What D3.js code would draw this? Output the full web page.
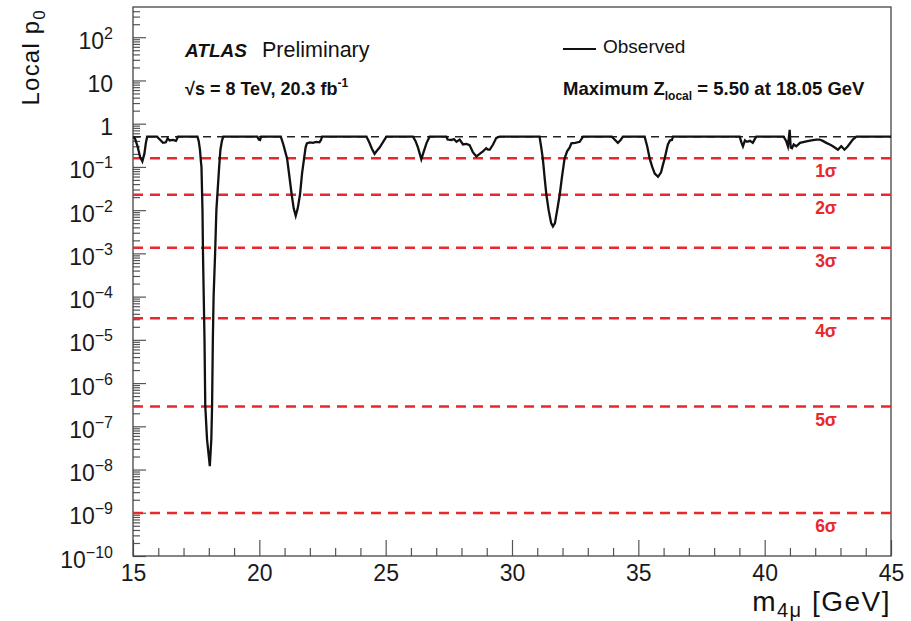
<!DOCTYPE html>
<html>
<head>
<meta charset="utf-8">
<script src="https://cdn.jsdelivr.net/npm/d3@7"></script>
<style>
  body { margin: 0; background: #fff; }
  text { font-family: "Liberation Sans", Arial, Helvetica, sans-serif; }
</style>
</head>
<body>
<svg id="chart" width="911" height="621"></svg>
<script>
// observed local p0 scan
const massValues = [
  15.00, 15.08, 15.18, 15.28, 15.37, 15.45, 15.51, 15.56, 15.95, 16.08, 16.19, 16.30, 16.37, 16.45, 16.58, 16.70, 16.78,
  17.55, 17.60, 17.65, 17.69, 17.71, 17.75, 17.77, 17.80, 17.83, 17.86, 17.93, 18.04, 18.10, 18.13, 18.16, 18.19, 18.25,
  18.30, 18.41, 18.46, 18.52, 18.57, 19.92, 19.98, 20.03, 20.07,
  20.85, 20.95, 21.03, 21.10, 21.19, 21.28, 21.36, 21.44, 21.52, 21.61, 21.69, 21.77, 21.83, 21.88, 22.00, 22.12, 22.25,
  22.38, 22.44, 22.48,
  24.24, 24.35, 24.46, 24.56, 24.66, 24.76, 24.90, 25.03,
  26.08, 26.18, 26.28, 26.35, 26.41, 26.50, 26.62, 26.74,
  27.40, 27.45, 27.60, 27.70, 27.80, 27.93, 28.06, 28.20, 28.32, 28.45, 28.59, 28.72, 28.85, 28.98, 29.05, 29.12, 29.25,
  29.38, 29.51,
  31.09, 31.15, 31.22, 31.30, 31.36, 31.45, 31.55, 31.62, 31.70, 31.80, 31.89, 31.98, 32.08, 32.18, 32.28, 32.35, 32.50,
  32.68, 32.81,
  33.95, 34.08, 34.19, 34.30, 34.39,
  35.25, 35.35, 35.45, 35.55, 35.65, 35.78, 35.90, 35.97, 36.04, 36.12, 36.17, 36.25, 36.33, 36.37,
  39.01, 39.08, 39.14, 39.22, 39.30, 39.42, 39.53, 39.62, 39.67,
  40.75, 40.85, 40.92, 40.99, 41.03, 41.08, 41.15, 41.25, 41.40, 41.65, 41.85, 42.04, 42.17, 42.30, 42.44, 42.58, 42.70,
  42.90, 43.03, 43.16, 43.29, 43.49, 43.63, 45.00
];
const p0Values = [
  0.5, 0.45, 0.3, 0.17, 0.135, 0.2, 0.36, 0.5, 0.5, 0.42, 0.36, 0.37, 0.46, 0.41, 0.42, 0.40, 0.5,
  0.5, 0.4, 0.25, 0.13, 0.1, 0.01, 1e-3, 1e-4, 1e-5, 3e-7, 5e-8, 1.2e-8, 5e-8, 3e-7, 1e-5, 1e-4, 1e-3,
  1e-2, 0.1, 0.25, 0.4, 0.5, 0.5, 0.43, 0.42, 0.5,
  0.5, 0.33, 0.22, 0.155, 0.06, 0.023, 0.011, 0.0074, 0.011, 0.023, 0.07, 0.155, 0.28, 0.35, 0.37, 0.36, 0.38,
  0.37, 0.42, 0.5,
  0.5, 0.37, 0.26, 0.2, 0.24, 0.28, 0.38, 0.5,
  0.5, 0.4, 0.28, 0.2, 0.15, 0.22, 0.36, 0.5,
  0.5, 0.43, 0.42, 0.44, 0.38, 0.43, 0.33, 0.34, 0.32, 0.22, 0.175, 0.2, 0.23, 0.27, 0.25, 0.25, 0.33,
  0.47, 0.5,
  0.5, 0.3, 0.155, 0.05, 0.023, 0.01, 0.005, 0.0042, 0.005, 0.011, 0.023, 0.06, 0.155, 0.23, 0.28, 0.35, 0.36,
  0.38, 0.5,
  0.5, 0.42, 0.36, 0.42, 0.5,
  0.5, 0.3, 0.155, 0.1, 0.07, 0.059, 0.075, 0.11, 0.155, 0.25, 0.33, 0.41, 0.42, 0.5,
  0.5, 0.37, 0.30, 0.41, 0.38, 0.40, 0.36, 0.45, 0.5,
  0.5, 0.4, 0.3, 0.72, 0.28, 0.27, 0.33, 0.30, 0.36, 0.39, 0.41, 0.43, 0.43, 0.40, 0.36, 0.33, 0.30,
  0.25, 0.30, 0.25, 0.30, 0.43, 0.5, 0.5
];

const sigmaLabels = ["1", "2", "3", "4", "5", "6"];
const sigmaP0 = [0.1587, 0.02275, 1.35e-3, 3.167e-5, 2.867e-7, 9.866e-10];
const baselineP0 = 0.5;

const xTickLabels = [15, 20, 25, 30, 35, 40, 45];
const yTickExponents = [2, 1, 0, -1, -2, -3, -4, -5, -6, -7, -8, -9, -10];

const svg = d3.select("#chart");
const plotLeft = 133, plotRight = 891, plotTop = 7, plotBottom = 556;
const RED = "#e8282d";

const x = d3.scaleLinear().domain([15, 45]).range([plotLeft, plotRight]);
const y = d3.scaleLog().domain([1e-10, 500]).range([plotBottom, plotTop]);

svg.append("defs").append("clipPath").attr("id", "plotClip")
  .append("rect").attr("x", plotLeft).attr("y", plotTop)
  .attr("width", plotRight - plotLeft).attr("height", plotBottom - plotTop);

// minor ticks: 1 GeV on x, 2..9 per decade on y
const xMinor = d3.range(15, 45.01, 1).filter((v) => v % 5 !== 0);
const yMinor = [];
for (let e = -10; e <= 2; e++) {
  for (let k = 2; k <= 9; k++) {
    const v = k * Math.pow(10, e);
    if (v < 500) yMinor.push(v);
  }
}

const xAxisMinor = svg.append("g").attr("transform", `translate(0,${plotBottom})`)
  .call(d3.axisBottom(x).tickValues(xMinor).tickSizeInner(-8).tickSizeOuter(0).tickFormat(""));
const xAxis = svg.append("g").attr("transform", `translate(0,${plotBottom})`)
  .call(d3.axisBottom(x).tickValues(xTickLabels).tickSizeInner(-16).tickSizeOuter(0).tickPadding(9));
xAxis.selectAll("text").attr("font-size", 23).attr("fill", "#1a1a1a")
  .style("font-family", '"Liberation Sans", Arial, sans-serif');

const yAxisMinor = svg.append("g").attr("transform", `translate(${plotLeft},0)`)
  .call(d3.axisLeft(y).tickValues(yMinor).tickSizeInner(-7).tickSizeOuter(0).tickFormat(""));
const yAxis = svg.append("g").attr("transform", `translate(${plotLeft},0)`)
  .call(d3.axisLeft(y).tickValues(yTickExponents.map((e) => Math.pow(10, e)))
    .tickSizeInner(-13).tickSizeOuter(0).tickFormat(""));

[xAxisMinor, xAxis, yAxisMinor, yAxis].forEach((g) => {
  g.select(".domain").remove();
  g.selectAll("line").attr("stroke", "#555").attr("stroke-width", 1.2);
});

// y tick labels with superscript exponents
const yLabels = svg.append("g").attr("font-size", 23).attr("fill", "#1a1a1a").attr("text-anchor", "end");
yTickExponents.forEach((e) => {
  const t = yLabels.append("text").attr("x", plotLeft - 20).attr("y", y(Math.pow(10, e)) + 11.5);
  if (e === 0) t.text("1");
  else if (e === 1) t.text("10");
  else {
    t.append("tspan").text("10");
    t.append("tspan").attr("font-size", 16).attr("dy", -10)
      .text(e < 0 ? "\u2212" + Math.abs(e) : String(e));
  }
});

// frame
svg.append("rect").attr("x", plotLeft).attr("y", plotTop)
  .attr("width", plotRight - plotLeft).attr("height", plotBottom - plotTop)
  .attr("fill", "none").attr("stroke", "#444").attr("stroke-width", 1.3);

const plot = svg.append("g").attr("clip-path", "url(#plotClip)");

// sigma reference lines
plot.selectAll("line.sigma").data(sigmaP0).join("line").attr("class", "sigma")
  .attr("x1", plotLeft).attr("x2", plotRight)
  .attr("y1", (d) => y(d)).attr("y2", (d) => y(d))
  .attr("stroke", RED).attr("stroke-width", 2.5).attr("stroke-dasharray", "10,7");

plot.append("line").attr("x1", plotLeft).attr("x2", plotRight)
  .attr("y1", y(baselineP0)).attr("y2", y(baselineP0))
  .attr("stroke", "#222").attr("stroke-width", 1.5).attr("stroke-dasharray", "8,6");

const scan = massValues.map((m, i) => ({ m, p: p0Values[i] }));
plot.append("path").datum(scan)
  .attr("fill", "none").attr("stroke", "#111").attr("stroke-width", 2.3)
  .attr("stroke-linejoin", "miter").attr("stroke-miterlimit", 10)
  .attr("d", d3.line().x((d) => x(d.m)).y((d) => y(d.p)));

svg.append("g").selectAll("text").data(sigmaP0).join("text")
  .attr("x", 826).attr("y", (d) => y(d) + 19)
  .attr("text-anchor", "middle").attr("font-size", 17.5).attr("font-weight", "bold").attr("fill", RED)
  .text((d, i) => sigmaLabels[i] + "\u03c3");

// labels
svg.append("text").attr("x", 185).attr("y", 57).attr("font-size", 19)
  .attr("font-weight", "bold").attr("font-style", "italic").attr("fill", "#111").text("ATLAS");
svg.append("text").attr("x", 262).attr("y", 57).attr("font-size", 21.5).attr("fill", "#111").text("Preliminary");

const energy = svg.append("text").attr("x", 185).attr("y", 95).attr("font-size", 18)
  .attr("font-weight", "bold").attr("fill", "#111");
energy.append("tspan").text("\u221as = 8 TeV, 20.3 fb");
energy.append("tspan").attr("font-size", 12).attr("dy", -8).text("-1");

svg.append("line").attr("x1", 563).attr("x2", 596).attr("y1", 49).attr("y2", 49)
  .attr("stroke", "#111").attr("stroke-width", 2);
svg.append("text").attr("x", 603).attr("y", 53).attr("font-size", 19).attr("fill", "#111").text("Observed");

const zmax = svg.append("text").attr("x", 563).attr("y", 95).attr("font-size", 18.5)
  .attr("font-weight", "bold").attr("fill", "#111");
zmax.append("tspan").text("Maximum Z");
zmax.append("tspan").attr("font-size", 12).attr("dy", 5).text("local");
zmax.append("tspan").attr("dy", -5).text(" = 5.50 at 18.05 GeV");

const yTitle = svg.append("text").attr("transform", "translate(39,9) rotate(-90)")
  .attr("text-anchor", "end").attr("font-size", 24).attr("letter-spacing", 1.2).attr("fill", "#111");
yTitle.append("tspan").text("Local p");
yTitle.append("tspan").attr("font-size", 17).attr("dy", 6).text("0");

const xTitle = svg.append("text").attr("x", plotRight).attr("y", 611)
  .attr("text-anchor", "end").attr("font-size", 28).attr("letter-spacing", 1.5).attr("fill", "#111");
xTitle.append("tspan").text("m");
xTitle.append("tspan").attr("font-size", 20).attr("dy", 6).text("4\u03bc");
xTitle.append("tspan").attr("dy", -6).text(" [GeV]");
</script>
</body>
</html>
